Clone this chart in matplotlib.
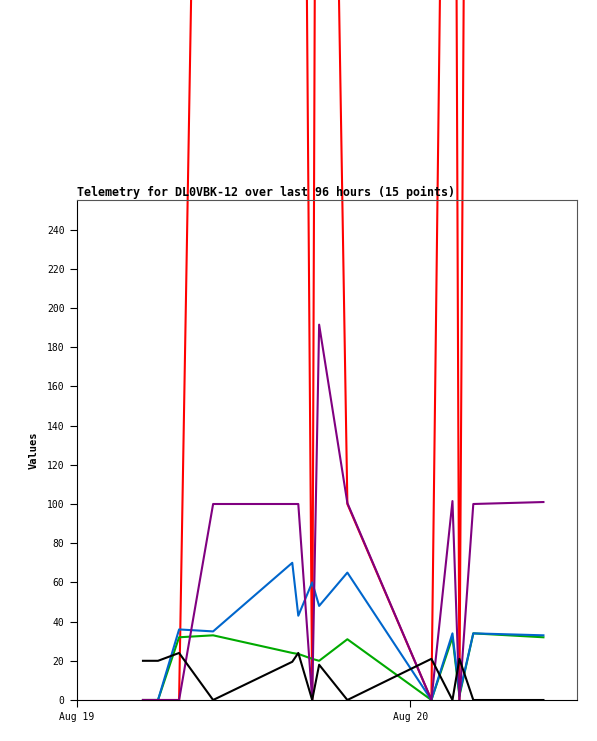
import matplotlib
matplotlib.use("Agg")
import matplotlib.pyplot as plt
import matplotlib.dates as mdates
import numpy as np
import pandas as pd

times = ["2024-08-19 04:45", "2024-08-19 05:50", "2024-08-19 07:21", "2024-08-19 09:48",
         "2024-08-19 15:30", "2024-08-19 15:56", "2024-08-19 16:56", "2024-08-19 17:26",
         "2024-08-19 19:28", "2024-08-20 01:31", "2024-08-20 03:02", "2024-08-20 03:32",
         "2024-08-20 04:32", "2024-08-20 09:35"]

red    = [0, 0, 0, 1013, 1000, 944, 0, 970, 100, 0, 885, 0, 1165, 1100]
green  = [0, 0, 32, 33, 24, 23.5, 21, 20, 31, 0, 32, 2, 34, 32]
blue   = [0, 0, 36, 35, 70, 43, 60, 48, 65, 0, 34, 3, 34, 33]
purple = [0, 0, 0, 100, 100, 100, 0, 191.5, 100.5, 0, 101.5, 0, 100, 101]
black  = [20, 20, 24, 0, 19.5, 24, 0, 18, 0, 21, 0, 21, 0, 0]

title = "Telemetry for DL0VBK-12 over last 96 hours (15 points)"
y_label = "Values"
y_ticks = list(range(0, 241, 20))
x_start = "2024-08-19 00:00"
x_end = "2024-08-20 12:00"

t = pd.to_datetime(times)

fig = plt.figure(figsize=(5.97, 7.41), dpi=100)
ax = fig.add_axes([77 / 597, 41 / 741, 500 / 597, 500 / 741])

lw = 1.5
ax.plot(t, red, color="#ff0000", lw=lw, clip_on=False, solid_joinstyle="miter")
ax.plot(t, green, color="#00aa00", lw=lw)
ax.plot(t, blue, color="#0066cc", lw=lw)
ax.plot(t, purple, color="#800080", lw=lw)
ax.plot(t, black, color="#000000", lw=lw)

ax.set_xlim(pd.Timestamp(x_start), pd.Timestamp(x_end))
ax.set_ylim(0, 255.1)
ax.set_yticks(y_ticks)
ax.xaxis.set_major_locator(mdates.DayLocator())
ax.xaxis.set_major_formatter(mdates.DateFormatter("%b %d"))

mono = "DejaVu Sans Mono"
for lab in ax.get_xticklabels() + ax.get_yticklabels():
    lab.set_fontfamily(mono)
    lab.set_fontsize(7)
ax.tick_params(direction="out", length=5, width=0.8, pad=4, colors="black")

ax.set_ylabel(y_label, fontfamily=mono, fontweight="bold", fontsize=7.5, labelpad=6)
ax.set_title(title, loc="left", fontfamily=mono, fontweight="bold", fontsize=8.4, pad=3)

for s in ["left", "bottom"]:
    ax.spines[s].set_color("black")
    ax.spines[s].set_linewidth(0.8)
for s in ["top", "right"]:
    ax.spines[s].set_color("#555555")
    ax.spines[s].set_linewidth(0.8)

fig.savefig("out.png", dpi=100)
